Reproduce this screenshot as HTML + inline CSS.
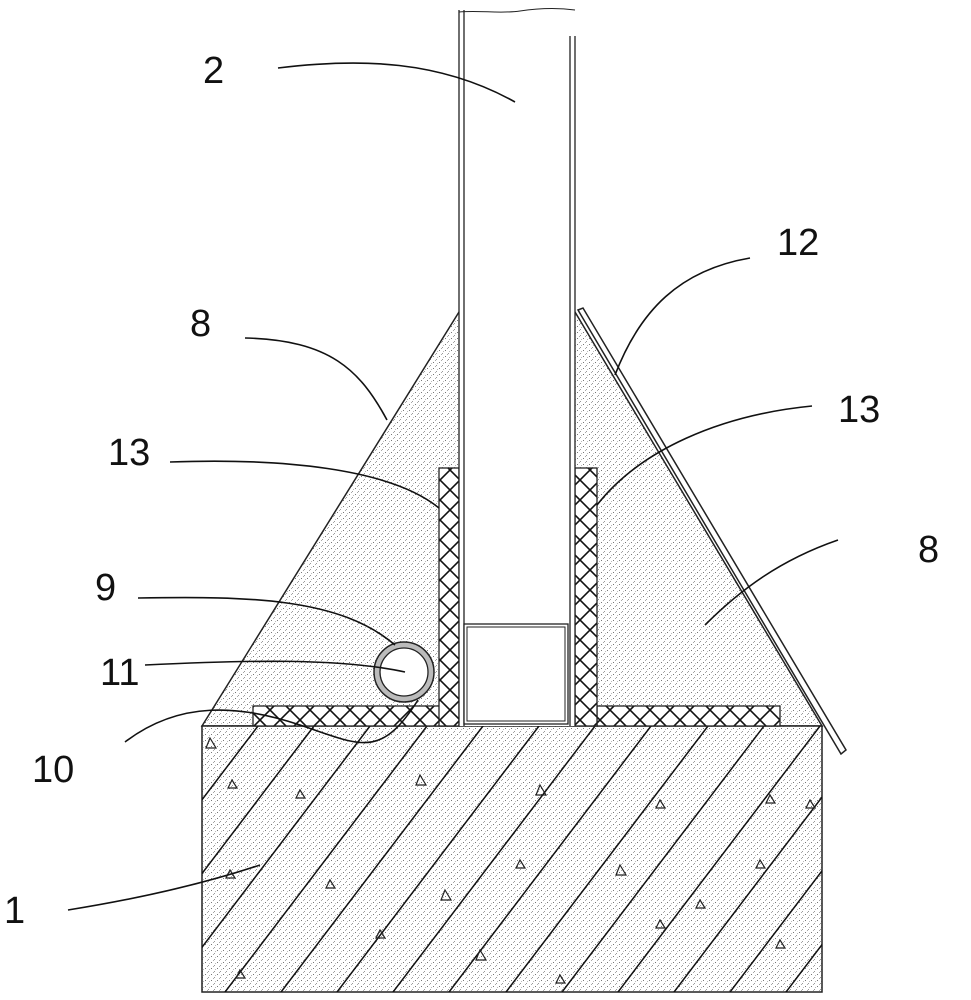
<!DOCTYPE html>
<html><head><meta charset="utf-8"><style>body{margin:0;background:#fff}svg{display:block}text{font-family:"Liberation Sans",sans-serif;font-size:38px;fill:#111}</style></head><body>
<svg width="971" height="1000" viewBox="0 0 971 1000" xmlns="http://www.w3.org/2000/svg">
<defs>
<pattern id="dots" width="6" height="6" patternUnits="userSpaceOnUse"><rect width="6" height="6" fill="#fff"/><rect x="1" y="2" width="1" height="1" fill="#777"/><rect x="4" y="5" width="1" height="1" fill="#999"/><rect x="3" y="0" width="1" height="1" fill="#aaa"/><rect x="5" y="3" width="1" height="1" fill="#bbb"/></pattern>
<pattern id="cross" width="20" height="20" patternUnits="userSpaceOnUse"><rect width="20" height="20" fill="#fff"/><path d="M0 0L20 20M20 0L0 20" stroke="#111" stroke-width="1.6"/></pattern>
<clipPath id="blk"><rect x="202" y="726" width="620" height="266"/></clipPath>
</defs>
<polygon points="459,312 575,312 822,726 202,726" fill="url(#dots)" stroke="#222" stroke-width="1.5"/>
<polygon points="578,310 583,308 846,750 841,754" fill="#fff" stroke="#222" stroke-width="1.5"/>
<rect x="202" y="726" width="620" height="266" fill="url(#dots)" stroke="#222" stroke-width="1.5"/>
<g clip-path="url(#blk)" stroke="#111" stroke-width="1.5">
<path d="M258 726L53 996M314 726L109 996M370 726L165 996M427 726L222 996M483 726L278 996M539 726L334 996M595 726L390 996M651 726L446 996M708 726L503 996M764 726L559 996M820 726L615 996M876 726L671 996M932 726L727 996M988 726L783 996M1044 726L839 996"/>
</g>
<g fill="none" stroke="#222" stroke-width="1.2">
<path d="M210 738l6 10h-10z M232 780l5 8h-9z M300 790l5 8h-9z M420 775l6 10h-10z M540 785l6 10h-10z M660 800l5 8h-9z M770 795l5 8h-9z M230 870l5 8h-9z M330 880l5 8h-9z M445 890l6 10h-10z M520 860l5 8h-9z M620 865l6 10h-10z M700 900l5 8h-9z M780 940l5 8h-9z M240 970l5 8h-9z M380 930l5 8h-9z M480 950l6 10h-10z M560 975l5 8h-9z M660 920l5 8h-9z M760 860l5 8h-9z M810 800l5 8h-9z"/>
</g>
<rect x="253" y="706" width="206" height="20" fill="url(#cross)" stroke="#222" stroke-width="1.3"/>
<rect x="597" y="706" width="183" height="20" fill="url(#cross)" stroke="#222" stroke-width="1.3"/>
<rect x="439" y="468" width="20" height="258" fill="url(#cross)" stroke="#222" stroke-width="1.3"/>
<rect x="575" y="468" width="22" height="258" fill="url(#cross)" stroke="#222" stroke-width="1.3"/>
<rect x="459" y="10" width="116" height="716" fill="#fff" stroke="none"/>
<path d="M459 10V726M464 10V726M570 36V726M575 36V726" stroke="#222" stroke-width="1.3"/>
<path d="M459 12C480 10 500 14 520 11S560 8 575 10" fill="none" stroke="#222" stroke-width="1"/>
<rect x="464" y="624" width="104" height="100" fill="#fff" stroke="#222" stroke-width="1.3"/>
<rect x="467" y="627" width="98" height="94" fill="none" stroke="#222" stroke-width="1"/>
<circle cx="404" cy="672" r="30" fill="#bbb" stroke="#222" stroke-width="1.5"/>
<circle cx="404" cy="672" r="24" fill="#fff" stroke="#222" stroke-width="1.3"/>
<g fill="none" stroke="#111" stroke-width="1.6">
<path d="M278 68C360 58 440 60 515 102"/>
<path d="M245 338C330 340 360 370 387 420"/>
<path d="M750 258C680 270 640 310 615 375"/>
<path d="M170 462C280 458 390 468 439 508"/>
<path d="M812 406C720 415 640 450 597 505"/>
<path d="M838 540C780 560 740 590 705 625"/>
<path d="M138 598C250 596 340 598 395 645"/>
<path d="M145 665C250 660 340 658 405 672"/>
<path d="M125 742C180 700 240 705 300 725S380 760 418 700"/>
<path d="M68 910C130 900 200 885 260 865"/>
</g>
<text x="203" y="83">2</text>
<text x="190" y="336">8</text>
<text x="777" y="255">12</text>
<text x="108" y="465">13</text>
<text x="838" y="422">13</text>
<text x="918" y="562">8</text>
<text x="95" y="600">9</text>
<text x="100" y="685">11</text>
<text x="32" y="782">10</text>
<text x="4" y="923">1</text>
</svg>
</body></html>
